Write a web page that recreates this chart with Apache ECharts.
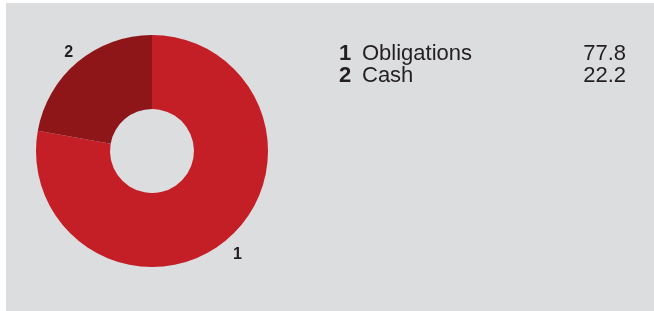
<!DOCTYPE html>
<html>
<head>
<meta charset="utf-8">
<script src="https://cdn.jsdelivr.net/npm/echarts@6/dist/echarts.min.js"></script>
<style>
html, body { margin: 0; padding: 0; background: #fff; }
#chart { position: absolute; left: 6px; top: 3px; width: 648px; height: 308px; }
</style>
</head>
<body>
<div id="chart"></div>
<script>
var labels = ['1', '2'];
var names = ['Obligations', 'Cash'];
var values = [77.8, 22.2];
var colors = ['#c41f27', '#8e1619'];

var myChart = echarts.init(document.getElementById('chart'));

var data = [];
for (var i = 0; i < names.length; i++) {
    data.push({ name: names[i], value: values[i], itemStyle: { color: colors[i] } });
}

myChart.setOption({
    backgroundColor: '#dcdddf',
    textStyle: { fontFamily: 'Liberation Sans, Arial, sans-serif' },
    legend: {
        orient: 'vertical',
        left: 328,
        top: 40,
        padding: 0,
        itemGap: 0,
        itemWidth: 0,
        itemHeight: 0,
        selectedMode: false,
        data: names,
        formatter: function (name) {
            var i = names.indexOf(name);
            return '{n|' + labels[i] + '}{t|' + name + '}{v|' + values[i].toFixed(1) + '}';
        },
        textStyle: {
            rich: {
                n: { fontSize: 22, fontWeight: 'bold', color: '#231f20', width: 23, lineHeight: 24 },
                t: { fontSize: 22, color: '#231f20', width: 200, lineHeight: 24 },
                v: { fontSize: 22, color: '#231f20', width: 64, align: 'right', lineHeight: 24 }
            }
        }
    },
    series: [{
        type: 'pie',
        center: [146, 148],
        radius: [42, 116],
        startAngle: 90,
        clockwise: true,
        silent: true,
        data: data,
        label: {
            show: true,
            position: 'outside',
            fontSize: 16,
            fontWeight: 'bold',
            color: '#231f20',
            distanceToLabelLine: 0,
            formatter: function (p) { return labels[p.dataIndex]; }
        },
        labelLine: { show: false, length: 17, length2: 0 },
        labelLayout: function (p) {
            return { align: 'center', verticalAlign: 'middle', dx: p.dataIndex === 1 ? 2 : 0, dy: p.dataIndex === 1 ? 4 : 2 };
        }
    }]
});
</script>
</body>
</html>
